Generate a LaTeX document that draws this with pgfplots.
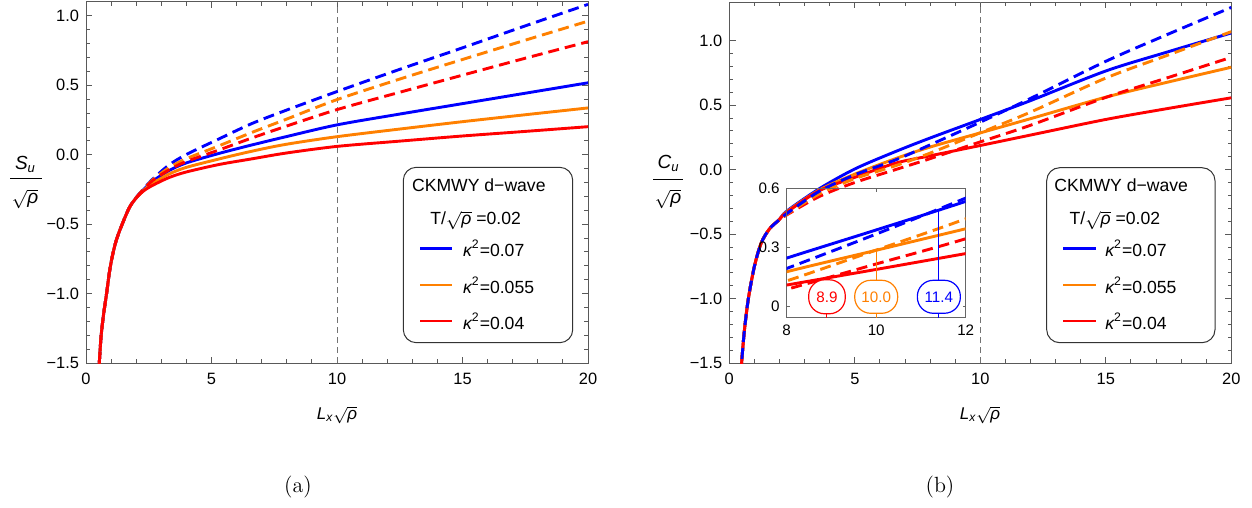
\documentclass[border=0pt]{standalone}
\usepackage{pgfplots}
\pgfplotsset{compat=1.18}
\usepackage{pgfplotstable}
\usepackage{fontspec}
\newfontfamily\sans{Liberation Sans}
\definecolor{mblue}{rgb}{0,0,1}
\definecolor{morange}{rgb}{1,0.5,0}
\definecolor{mred}{rgb}{1,0,0}

% panel (a): S_u / sqrt(rho)
\pgfplotstableread{
x bs os rs bd od rd
0.50 -1.62 -1.62 -1.62 -1.62 -1.62 -1.62
0.53 -1.50 -1.50 -1.50 -1.50 -1.50 -1.50
0.60 -1.31 -1.31 -1.31 -1.31 -1.31 -1.31
0.70 -1.15 -1.15 -1.15 -1.15 -1.15 -1.15
0.82 -1.00 -1.00 -1.00 -1.00 -1.00 -1.00
0.93 -0.85 -0.85 -0.85 -0.85 -0.85 -0.85
1.05 -0.73 -0.73 -0.73 -0.73 -0.73 -0.73
1.20 -0.62 -0.62 -0.62 -0.62 -0.62 -0.62
1.42 -0.51 -0.51 -0.51 -0.51 -0.51 -0.51
1.73 -0.38 -0.38 -0.38 -0.38 -0.38 -0.38
2.00 -0.310 -0.311 -0.312 -0.308 -0.309 -0.310
2.30 -0.250 -0.255 -0.260 -0.245 -0.247 -0.250
2.66 -0.190 -0.205 -0.220 -0.175 -0.180 -0.185
3.30 -0.115 -0.140 -0.165 -0.075 -0.095 -0.110
3.98 -0.060 -0.092 -0.125 0.000 -0.030 -0.050
5.31 0.010 -0.030 -0.070 0.115 0.065 0.035
6.60 0.070 0.025 -0.030 0.224 0.160 0.120
7.97 0.130 0.075 0.012 0.320 0.255 0.205
10.0 0.215 0.130 0.060 0.455 0.397 0.325
12.5 0.293 0.185 0.098 0.615 0.545 0.450
15.0 0.368 0.238 0.135 0.770 0.686 0.573
17.5 0.443 0.288 0.168 0.928 0.825 0.695
20.0 0.518 0.337 0.202 1.083 0.962 0.814
}\dataA

% panel (b): C_u / sqrt(rho)
\pgfplotstableread{
x bs os rs bd od rd
0.46 -1.60 -1.60 -1.60 -1.60 -1.60 -1.60
0.49 -1.50 -1.50 -1.50 -1.50 -1.50 -1.50
0.60 -1.25 -1.25 -1.25 -1.25 -1.25 -1.25
0.76 -1.00 -1.00 -1.00 -1.00 -1.00 -1.00
1.00 -0.75 -0.75 -0.75 -0.75 -0.75 -0.75
1.27 -0.57 -0.57 -0.57 -0.57 -0.57 -0.57
1.60 -0.46 -0.46 -0.46 -0.46 -0.46 -0.46
2.00 -0.385 -0.385 -0.386 -0.388 -0.389 -0.390
2.30 -0.320 -0.325 -0.330 -0.340 -0.345 -0.350
3.57 -0.150 -0.160 -0.165 -0.170 -0.190 -0.210
5.00 0.005 -0.035 -0.060 -0.040 -0.070 -0.100
6.62 0.140 0.085 0.050 0.075 0.030 0.000
8.00 0.245 0.175 0.107 0.192 0.128 0.085
10.0 0.389 0.285 0.187 0.368 0.286 0.215
12.0 0.535 0.395 0.268 0.552 0.446 0.344
15.0 0.765 0.562 0.389 0.840 0.710 0.560
17.5 0.915 0.680 0.475 1.052 0.890 0.715
20.0 1.060 0.794 0.557 1.258 1.070 0.871
}\dataB

\pgfplotsset{
  mframe/.style={scale only axis, width=251pt, height=180.5pt,
    axis line style={black!65, line width=0.5pt},
    tick style={black!65, line width=0.45pt},
    major tick length=3.2pt, minor tick length=1.8pt,
    ticklabel style={font=\sans\fontsize{8.2}{9.5}\selectfont},
    xticklabel style={yshift=-1.5pt},
    xmin=0, xmax=20, xtick={0,5,10,15,20}, xticklabels={0,5,10,15,20},
    minor x tick num=4,
    ytick={-1.5,-1,-0.5,0,0.5,1}, yticklabels={−1.5,−1.0,−0.5,0.0,0.5,1.0},
    minor y tick num=4, ymin=-1.5},
  sol/.style={line width=1.45pt, smooth},
  das/.style={line width=1.45pt, smooth, dash pattern=on 5.5pt off 3pt},
}

\begin{document}
\begin{tikzpicture}
\useasboundingbox (0,0) rectangle (626pt,-254pt);

% ---------------- panel (a)
\begin{axis}[mframe, at={(43pt,-181.5pt)}, anchor=south west, ymax=1.1]
\draw[black!55, line width=0.4pt, dash pattern=on 3pt off 2pt] (axis cs:10,-1.5) -- (axis cs:10,1.1);
\addplot[mblue, sol] table[x=x,y=bs]{\dataA};
\addplot[morange, sol] table[x=x,y=os]{\dataA};
\addplot[mred, sol] table[x=x,y=rs]{\dataA};
\addplot[mblue, das] table[x=x,y=bd]{\dataA};
\addplot[morange, das] table[x=x,y=od]{\dataA};
\addplot[mred, das] table[x=x,y=rd]{\dataA};
\end{axis}

% ---------------- panel (b)
\begin{axis}[mframe, at={(364.65pt,-181.5pt)}, anchor=south west, ymax=1.3]
\draw[black!55, line width=0.4pt, dash pattern=on 3pt off 2pt] (axis cs:10,-1.5) -- (axis cs:10,1.3);
\addplot[mblue, sol] table[x=x,y=bs]{\dataB};
\addplot[morange, sol] table[x=x,y=os]{\dataB};
\addplot[mred, sol] table[x=x,y=rs]{\dataB};
\addplot[mred, das] table[x=x,y=rd]{\dataB};
\addplot[morange, das] table[x=x,y=od]{\dataB};
\addplot[mblue, das] table[x=x,y=bd]{\dataB};
\end{axis}

% ---------------- inset in (b)
\begin{axis}[scale only axis, width=89.5pt, height=64.5pt,
  at={(393.35pt,-158.85pt)}, anchor=south west,
  xmin=8, xmax=12, ymin=-0.06, ymax=0.6,
  xtick={8,10,12}, xticklabels={8,10,12},
  ytick={0,0.3,0.6}, yticklabels={0,0.3,0.6},
  axis line style={black!60, line width=0.5pt},
  tick style={black!60, line width=0.4pt}, major tick length=1.5pt,
  ticklabel style={font=\sans\fontsize{7.6}{9}\selectfont}]
\addplot[mblue, sol] table[x=x,y=bs]{\dataB};
\addplot[morange, sol] table[x=x,y=os]{\dataB};
\addplot[mred, sol] table[x=x,y=rs]{\dataB};
\addplot[mred, das] table[x=x,y=rd]{\dataB};
\addplot[morange, das] table[x=x,y=od]{\dataB};
\addplot[mblue, das] table[x=x,y=bd]{\dataB};
\draw[mred, line width=0.5pt] (axis cs:8.9,0.143) -- (axis cs:8.9,-0.06);
\draw[morange, line width=0.5pt] (axis cs:10,0.285) -- (axis cs:10,-0.06);
\draw[mblue, line width=0.5pt] (axis cs:11.4,0.491) -- (axis cs:11.4,-0.06);
\node[draw=mred, text=mred, fill=white, rounded corners=8pt, minimum width=18.3pt, minimum height=17pt, inner sep=1pt, line width=0.6pt, font=\sans\fontsize{7.6}{9}\selectfont] at (axis cs:8.9,0.047) {8.9};
\node[draw=morange, text=morange, fill=white, rounded corners=8pt, minimum width=21.5pt, minimum height=16.5pt, inner sep=1pt, line width=0.6pt, font=\sans\fontsize{7.6}{9}\selectfont] at (axis cs:10,0.047) {10.0};
\node[draw=mblue, text=mblue, fill=white, rounded corners=8pt, minimum width=21.5pt, minimum height=16.5pt, inner sep=1pt, line width=0.6pt, font=\sans\fontsize{7.6}{9}\selectfont] at (axis cs:11.4,0.047) {11.4};
\end{axis}

% ---------------- legends
\begin{scope}[font=\sans\fontsize{8.8}{10}\selectfont]
\draw[black!80, line width=0.5pt, rounded corners=6.5pt, fill=white] (201.65pt,-83.65pt) rectangle (286.35pt,-171.35pt);
\node[anchor=west, inner sep=0pt] at (205.85pt,-92.6pt) {CKMWY d−wave};
\node[anchor=west, inner sep=0pt] at (215pt,-110.3pt) {T/$\sqrt{\hbox{\itshape ρ}}$ =0.02};
\draw[mblue, line width=1.45pt] (210pt,-124.15pt) -- (225.85pt,-124.15pt);
\draw[morange, line width=1.45pt] (210pt,-142.5pt) -- (225.85pt,-142.5pt);
\draw[mred, line width=1.45pt] (210pt,-160.5pt) -- (225.85pt,-160.5pt);
\node[anchor=west, inner sep=0pt] at (231.35pt,-124.15pt) {{\itshape κ}\textsuperscript{2}=0.07};
\node[anchor=west, inner sep=0pt] at (231.35pt,-142.5pt) {{\itshape κ}\textsuperscript{2}=0.055};
\node[anchor=west, inner sep=0pt] at (231.35pt,-160.5pt) {{\itshape κ}\textsuperscript{2}=0.04};

\draw[black!80, line width=0.5pt, rounded corners=6.5pt, fill=white] (523.35pt,-83.85pt) rectangle (607.5pt,-171.35pt);
\node[anchor=west, inner sep=0pt] at (527pt,-92.6pt) {CKMWY d−wave};
\node[anchor=west, inner sep=0pt] at (534.6pt,-110.3pt) {T/$\sqrt{\hbox{\itshape ρ}}$ =0.02};
\draw[mblue, line width=1.45pt] (531.65pt,-124.15pt) -- (547.85pt,-124.15pt);
\draw[morange, line width=1.45pt] (531.65pt,-142.5pt) -- (547.85pt,-142.5pt);
\draw[mred, line width=1.45pt] (531.65pt,-160.5pt) -- (547.85pt,-160.5pt);
\node[anchor=west, inner sep=0pt] at (552.5pt,-124.15pt) {{\itshape κ}\textsuperscript{2}=0.07};
\node[anchor=west, inner sep=0pt] at (552.5pt,-142.5pt) {{\itshape κ}\textsuperscript{2}=0.055};
\node[anchor=west, inner sep=0pt] at (552.5pt,-160.5pt) {{\itshape κ}\textsuperscript{2}=0.04};
\end{scope}

% ---------------- axis labels
\begin{scope}[font=\sans\fontsize{9.5}{11}\selectfont]
\node[inner sep=0pt] at (12.5pt,-82pt) {\itshape S\raisebox{-0.3ex}{\fontsize{6.5}{7}\selectfont u}};
\draw[black, line width=0.5pt] (5pt,-89pt) -- (21pt,-89pt);
\node[inner sep=0pt] at (12.5pt,-99.5pt) {$\sqrt{\hbox{\itshape ρ}}$};
\node[inner sep=0pt] at (334pt,-81.5pt) {\itshape C\raisebox{-0.3ex}{\fontsize{6.5}{7}\selectfont u}};
\draw[black, line width=0.5pt] (326.7pt,-89.5pt) -- (341.7pt,-89.5pt);
\node[inner sep=0pt] at (334pt,-99.5pt) {$\sqrt{\hbox{\itshape ρ}}$};
\end{scope}
\begin{scope}[font=\sans\fontsize{8.5}{10}\selectfont]
\node at (168.5pt,-207.5pt) {$\hbox{\itshape L}_{\hbox{\fontsize{6}{7}\selectfont\itshape x}}\sqrt{\hbox{\itshape ρ}}$};
\node at (490pt,-207.5pt) {$\hbox{\itshape L}_{\hbox{\fontsize{6}{7}\selectfont\itshape x}}\sqrt{\hbox{\itshape ρ}}$};
\end{scope}

% ---------------- captions
\node[font=\fontsize{11}{13}\selectfont] at (149pt,-243.5pt) {(a)};
\node[font=\fontsize{11}{13}\selectfont] at (470pt,-243.5pt) {(b)};
\end{tikzpicture}
\end{document}
